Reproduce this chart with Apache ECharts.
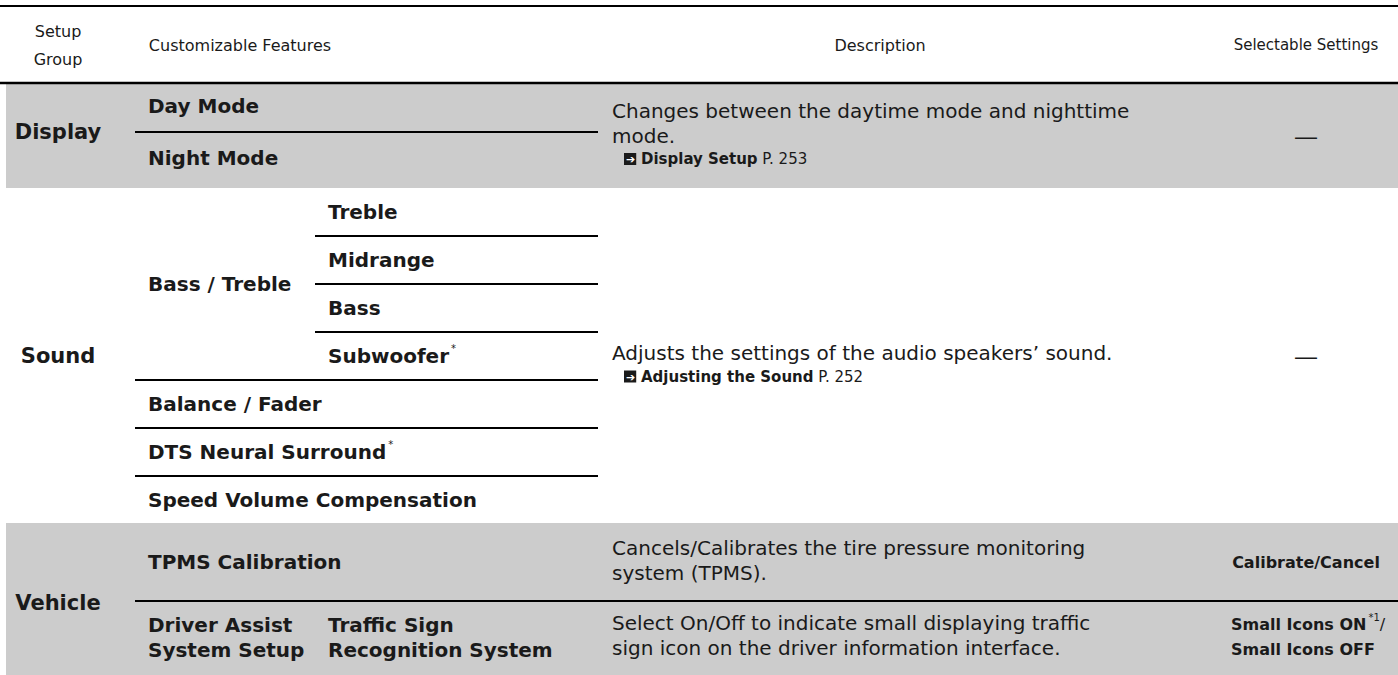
<!DOCTYPE html>
<html>
<head>
<meta charset="utf-8">
<script src="https://cdn.jsdelivr.net/npm/echarts@6/dist/echarts.min.js"></script>
<style>
html,body{margin:0;padding:0;background:#fff;}
#main{width:1398px;height:675px;}
</style>
</head>
<body>
<div id="main"></div>
<script>
// ---------------- data ----------------
const headerLabels = ['Setup\nGroup', 'Customizable Features', 'Description', 'Selectable Settings'];
const groupNames = ['Display', 'Sound', 'Vehicle'];
const displayFeatures = ['Day Mode', 'Night Mode'];
const soundParent = 'Bass / Treble';
const bassTrebleItems = ['Treble', 'Midrange', 'Bass', 'Subwoofer'];
const bassTrebleStar = [false, false, false, true];
const soundFeatures = ['Balance / Fader', 'DTS Neural Surround', 'Speed Volume Compensation'];
const soundStar = [false, true, false];
const vehicleFeatures = ['TPMS Calibration', 'Driver Assist\nSystem Setup'];
const vehicleSub = ['', 'Traffic Sign\nRecognition System'];
const displayDesc = ['Changes between the daytime mode and nighttime', 'mode.'];
const soundDesc = ['Adjusts the settings of the audio speakers’ sound.'];
const vehicleDesc = [
  ['Cancels/Calibrates the tire pressure monitoring', 'system (TPMS).'],
  ['Select On/Off to indicate small displaying traffic', 'sign icon on the driver information interface.']
];
const refLinks = [['Display Setup', 'P. 253'], ['Adjusting the Sound', 'P. 252']];
const settingsText = ['—', '—', 'Calibrate/Cancel', ['Small Icons ON', '*1', '/'], 'Small Icons OFF'];

// ---------------- layout ----------------
const W = 1398, H = 675;
const FONT = 'DejaVu Sans';
const INK = '#1a1a1a';
const GRAY = '#cccccc';
const X = { groupC: 58, feat: 148, sub: 328, lineL: 135, subLineL: 315, lineR: 598, desc: 612, setC: 1306, setL: 1231 };
const Y = { top: 6, head: 83, dispTop: 84, dispSep: 132, soundTop: 188, rowH: 48, vehTop: 523, vehSep: 601 };

const st = (size, weight, lh, extra) => Object.assign({ fontFamily: FONT, fontSize: size, fontWeight: weight, fill: INK, lineHeight: lh }, extra || {});
const rich = {
  g: st(21, 'bold', 25),
  b: st(20, 'bold', 25),
  r: st(20, 'normal', 25),
  h: st(16, 'normal', 28),
  hs: st(15, 'normal', 25),
  s: st(16, 'bold', 25),
  sr: st(16, 'normal', 25),
  dash: { fontFamily: 'Liberation Sans', fontSize: 22, fontWeight: 'normal', fill: INK, lineHeight: 25 },
  rs: st(15, 'normal', 22),
  bs: st(15, 'bold', 22),
  sup: st(10, 'normal', 12, { verticalAlign: 'top', padding: [0, 0, 0, 2] }),
  ind: st(15, 'normal', 22, { width: 12 }),
  ar: { fontFamily: 'DejaVu Sans', fontSize: 11, fontWeight: 'bold', fill: '#ffffff', backgroundColor: INK, padding: [1, 1, 0, 2], lineHeight: 13 }
};

const cells = [];
function rect(x0, y0, x1, y1, fill) { cells.push({ t: 'rect', x0, y0, x1, y1, fill }); }
function line(x0, x1, y, w) { cells.push({ t: 'line', x0, x1, y, w: w || 2 }); }
function text(x, y, str, align) { cells.push({ t: 'text', x, y, str, align: align || 'left' }); }
const tok = (k, s) => s.split('\n').map(p => '{' + k + '|' + p + '}').join('\n');
const boldStar = (s, star) => '{b|' + s + '}' + (star ? '{sup|*}' : '');
const linkLine = l => '{ind| }{ar|➔}{rs| }{bs|' + l[0] + '}{rs| ' + l[1] + '}';
const descBlock = (lines, link) => lines.map(l => '{r|' + l + '}').join('\n') + (link ? '\n' + linkLine(link) : '');

// backgrounds
rect(6, Y.dispTop, W, Y.soundTop, GRAY);
rect(6, Y.vehTop, W, H, GRAY);

// rules
line(0, W, Y.top, 2.2);
line(0, W, Y.head, 2.6);

// header
text(X.groupC, 45, tok('h', headerLabels[0]), 'center');
text(240, 45, tok('h', headerLabels[1]), 'center');
text(880, 45, tok('h', headerLabels[2]), 'center');
text(X.setC, 45, tok('hs', headerLabels[3]), 'center');

// Display group
text(X.groupC, 132, tok('g', groupNames[0]), 'center');
displayFeatures.forEach((f, i) => {
  const y0 = i === 0 ? Y.dispTop : Y.dispSep;
  const y1 = i === 0 ? Y.dispSep : Y.soundTop;
  text(X.feat, (y0 + y1) / 2 - 2, tok('b', f));
});
line(X.lineL, X.lineR, Y.dispSep);
text(X.desc, 134, descBlock(displayDesc, refLinks[0]));
text(X.setC, 136, '{dash|' + settingsText[0] + '}', 'center');

// Sound group
const soundRows = bassTrebleItems.length + soundFeatures.length;
const soundBottom = Y.soundTop + soundRows * Y.rowH;
text(X.groupC, (Y.soundTop + soundBottom) / 2, tok('g', groupNames[1]), 'center');
text(X.feat, Y.soundTop + bassTrebleItems.length * Y.rowH / 2, tok('b', soundParent));
bassTrebleItems.forEach((s, i) => {
  const y0 = Y.soundTop + i * Y.rowH;
  text(X.sub, y0 + Y.rowH / 2, boldStar(s, bassTrebleStar[i]));
  if (i < bassTrebleItems.length - 1) line(X.subLineL, X.lineR, y0 + Y.rowH);
  else line(X.lineL, X.lineR, y0 + Y.rowH);
});
soundFeatures.forEach((s, i) => {
  const y0 = Y.soundTop + (bassTrebleItems.length + i) * Y.rowH;
  text(X.feat, y0 + Y.rowH / 2, boldStar(s, soundStar[i]));
  if (i < soundFeatures.length - 1) line(X.lineL, X.lineR, y0 + Y.rowH);
});
text(X.desc, 364, descBlock(soundDesc, refLinks[1]));
text(X.setC, 356, '{dash|' + settingsText[1] + '}', 'center');

// Vehicle group
text(X.groupC, 603, tok('g', groupNames[2]), 'center');
line(X.lineL, W, Y.vehSep);
const vRows = [[Y.vehTop, Y.vehSep], [Y.vehSep, H]];
vehicleFeatures.forEach((f, i) => {
  const [y0, y1] = vRows[i];
  const c = (y0 + y1) / 2 - (i === 1 ? 1 : 0);
  text(X.feat, c, tok('b', f));
  if (vehicleSub[i]) text(X.sub, c, tok('b', vehicleSub[i]));
  text(X.desc, c - 2, descBlock(vehicleDesc[i]));
});
text(X.setC, 562, '{s|' + settingsText[2] + '}', 'center');
text(X.setL, 637, '{s|' + settingsText[3][0] + '}{sup|' + settingsText[3][1] + '}{sr|' + settingsText[3][2] + '}\n{s|' + settingsText[4] + '}');

// ---------------- chart ----------------
const chart = echarts.init(document.getElementById('main'), null, { renderer: 'svg', width: W, height: H });
chart.setOption({
  animation: false,
  grid: { left: 0, right: 0, top: 0, bottom: 0 },
  xAxis: { type: 'value', min: 0, max: W, show: false },
  yAxis: { type: 'value', min: 0, max: H, inverse: true, show: false },
  series: [{
    type: 'custom',
    coordinateSystem: 'cartesian2d',
    silent: true,
    clip: false,
    data: cells.map((c, i) => [i, i]),
    renderItem: function (params, api) {
      const c = cells[params.dataIndex];
      if (c.t === 'rect') {
        const p0 = api.coord([c.x0, c.y0]);
        const p1 = api.coord([c.x1, c.y1]);
        return { type: 'rect', shape: { x: p0[0], y: p0[1], width: p1[0] - p0[0], height: p1[1] - p0[1] }, style: { fill: c.fill } };
      }
      if (c.t === 'line') {
        const p0 = api.coord([c.x0, c.y]);
        const p1 = api.coord([c.x1, c.y]);
        return { type: 'line', shape: { x1: p0[0], y1: p0[1], x2: p1[0], y2: p1[1] }, style: { stroke: '#000', lineWidth: c.w } };
      }
      const p = api.coord([c.x, c.y]);
      return {
        type: 'text', x: p[0], y: p[1],
        style: { text: c.str, rich: rich, align: c.align, verticalAlign: 'middle', fill: INK, fontFamily: FONT, fontSize: 20, lineHeight: 25 }
      };
    }
  }]
});
</script>
</body>
</html>
